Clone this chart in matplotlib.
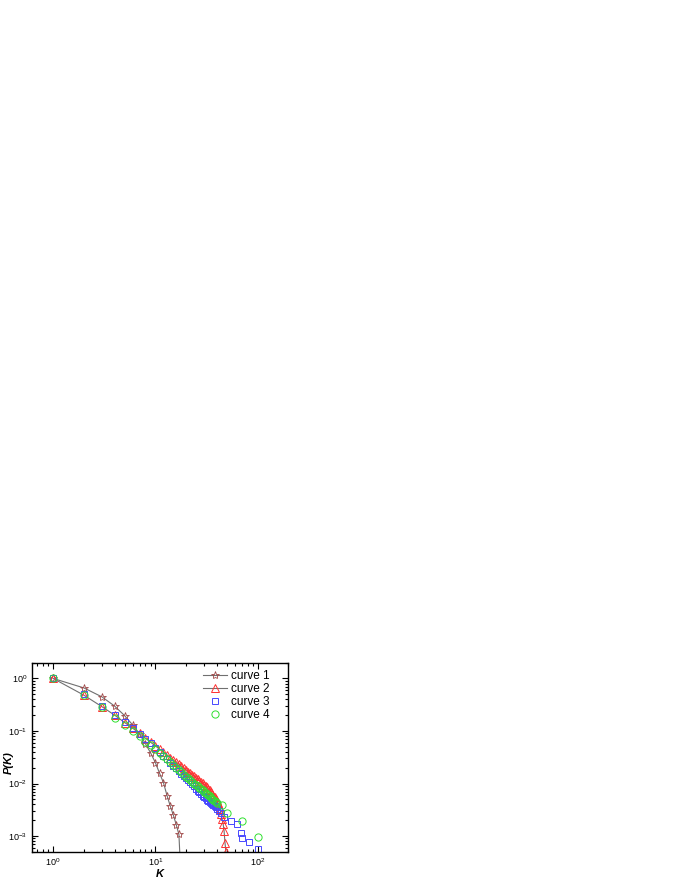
#!/usr/bin/env python3

from matplotlib import pyplot as plt
from matplotlib.ticker import LogLocator, NullFormatter

# curve 1: stars joined by a line
k1 = [1, 2, 3, 4, 5, 6, 7, 8, 9, 10, 11, 12, 13, 14, 15, 16, 17, 18]
p1 = [1.0, 0.66, 0.446, 0.297, 0.196, 0.13, 0.087, 0.057, 0.038, 0.025,
      0.0156, 0.0104, 0.0059, 0.0037, 0.0025, 0.00165, 0.00107, 0.0001]

# curve 2: triangles joined by a line
k2 = list(range(1, 50))
p2 = [1.0, 0.48, 0.29, 0.2, 0.145, 0.113, 0.09, 0.073, 0.061, 0.052,
      0.045, 0.039, 0.035, 0.031, 0.028, 0.0255, 0.0232, 0.0213, 0.0196, 0.0181,
      0.0168, 0.0156, 0.0146, 0.0137, 0.0128, 0.0121, 0.0114, 0.0107, 0.0101, 0.0095,
      0.0089, 0.0084, 0.0079, 0.0074, 0.0069, 0.0064, 0.0059, 0.0055, 0.0051, 0.0046,
      0.0042, 0.0037, 0.0032, 0.0026, 0.0021, 0.00173, 0.00126, 0.00075, 0.0005]

# curve 3: squares only
k3 = list(range(1, 41)) + [42, 44, 47, 55, 63, 69, 71, 82, 100]
p3 = [1.0, 0.5, 0.3, 0.2, 0.148, 0.112, 0.088, 0.07, 0.058, 0.048,
      0.040, 0.034, 0.029, 0.025, 0.022, 0.0195, 0.0173, 0.0155, 0.014, 0.0127,
      0.0115, 0.0105, 0.0096, 0.0088, 0.0080, 0.0073, 0.0068, 0.0063, 0.0059, 0.0055,
      0.0052, 0.0049, 0.0047, 0.0045, 0.0043, 0.0041, 0.0039, 0.0037, 0.0035, 0.0033,
      0.0030, 0.0027, 0.0023, 0.0019, 0.00173, 0.00116, 0.00093, 0.00077, 0.00056]

# curve 4: circles only
k4 = list(range(1, 41)) + [45, 50, 71, 100]
p4 = [1.0, 0.48, 0.28, 0.175, 0.128, 0.098, 0.079, 0.063, 0.053, 0.045,
      0.038, 0.033, 0.029, 0.0255, 0.0225, 0.020, 0.018, 0.0163, 0.0148, 0.0135,
      0.0125, 0.0115, 0.0107, 0.0100, 0.0094, 0.0088, 0.0083, 0.0078, 0.0074, 0.0070,
      0.0066, 0.0063, 0.0060, 0.0057, 0.0054, 0.0051, 0.0048, 0.0046, 0.0044, 0.0042,
      0.0039, 0.0028, 0.0019, 0.00095]


def main():
    plt.rcParams['font.family'] = ['Liberation Sans', 'DejaVu Sans']
    plt.rcParams['mathtext.default'] = 'regular'

    fig = plt.figure(figsize=(6.8, 8.8), dpi=100)
    ax = fig.add_axes([0.047, 0.032, 0.377, 0.215])

    ax.plot(k1, p1, color='#707070', lw=0.8, marker='*', ms=6, mfc='none',
            mec='#a04848', mew=0.6, label='curve 1')
    ax.plot(k2, p2, color='#707070', lw=0.8, marker='^', ms=5.5, mfc='none',
            mec='#ff3030', mew=0.7, label='curve 2')
    ax.plot(k3, p3, ls='none', marker='s', ms=4.8, mfc='none',
            mec='#4848ff', mew=0.7, label='curve 3')
    ax.plot(k4, p4, ls='none', marker='o', ms=5.2, mfc='none',
            mec='#30e030', mew=0.7, label='curve 4')

    ax.set_xscale('log')
    ax.set_yscale('log')
    ax.set_xlim(0.62, 200)
    ax.set_ylim(5e-4, 2)

    ax.xaxis.set_major_locator(LogLocator(base=10, numticks=10))
    ax.xaxis.set_minor_locator(LogLocator(base=10, subs=range(2, 10), numticks=20))
    ax.yaxis.set_major_locator(LogLocator(base=10, numticks=10))
    ax.yaxis.set_minor_locator(LogLocator(base=10, subs=range(2, 10), numticks=20))
    ax.xaxis.set_minor_formatter(NullFormatter())
    ax.yaxis.set_minor_formatter(NullFormatter())

    ax.tick_params(which='both', direction='in', top=True, right=True,
                   labelsize=6.5, width=0.8)
    ax.tick_params(which='major', length=4)
    ax.tick_params(which='minor', length=2)
    for s in ax.spines.values():
        s.set_linewidth(1.0)

    ax.set_xlabel('K', fontsize=8, fontweight='bold', fontstyle='italic',
                  labelpad=0.5)
    ax.set_ylabel('P(K)', fontsize=8, fontweight='bold', fontstyle='italic')
    ax.yaxis.set_label_coords(-0.072, 0.47)

    ax.legend(loc='upper left', bbox_to_anchor=(0.668, 0.962), frameon=False,
              fontsize=8.5, handlelength=2.0, handletextpad=0.35,
              labelspacing=0.1, borderpad=0, borderaxespad=0)

    fig.savefig('out.png', dpi=100)


if __name__ == "__main__":
    main()
